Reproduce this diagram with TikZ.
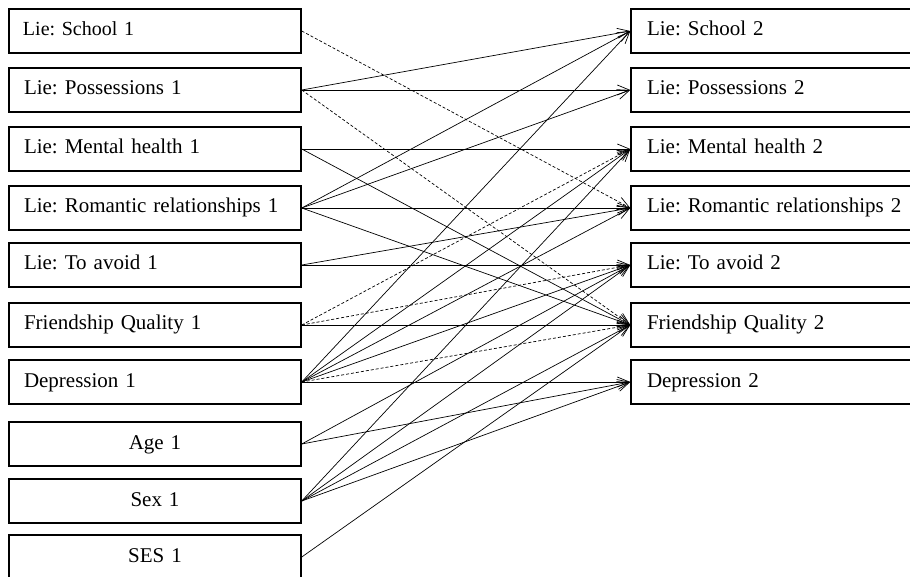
\documentclass[tikz,border=0pt]{standalone}
\usepackage{fontspec}
\setmainfont{Liberation Serif}
\usetikzlibrary{arrows.meta}
\frenchspacing
\tikzset{
  boxbase/.style={draw, line width=1.5pt, minimum height=44pt, text height=14pt, text depth=4pt,
    font=\fontsize{21}{25}\selectfont},
  lbox/.style={boxbase, inner xsep=15pt, text width=262pt, align=left},
  cbox/.style={boxbase, inner xsep=15pt, text width=262pt, align=center},
  rbox/.style={boxbase, inner xsep=16pt, text width=268pt, align=left},
  path/.style={line width=0.7pt, -{Straight Barb[length=12pt,width=10pt,line width=0.7pt]}},
  dpath/.style={path, dash pattern=on 3pt off 2pt},
}
\begin{document}
\begin{tikzpicture}[x=1pt,y=-1pt]
\clip (0,0) rectangle (910,577);
\fill[white] (0,0) rectangle (910,577);
% left column
\node[lbox, font=\fontsize{20}{24}\selectfont\frenchspacing, inner xsep=14pt, text width=264pt] (l1) at (155,31) {Lie: School 1};
\node[lbox] (l2) at (155,90) {Lie: Possessions 1};
\node[lbox] (l3) at (155,149) {Lie: Mental health 1};
\node[lbox] (l4) at (155,208) {Lie: Romantic relationships 1};
\node[lbox] (l5) at (155,265) {Lie: To avoid 1};
\node[lbox] (l6) at (155,325) {Friendship Quality 1};
\node[lbox] (l7) at (155,382) {Depression 1};
\node[cbox] (l8) at (155,444) {Age 1};
\node[cbox] (l9) at (155,501) {Sex 1};
\node[cbox] (l10) at (155,557) {SES 1};
% right column
\node[rbox] (r1) at (781,31) {Lie: School 2};
\node[rbox] (r2) at (781,90) {Lie: Possessions 2};
\node[rbox] (r3) at (781,149) {Lie: Mental health 2};
\node[rbox] (r4) at (781,208) {Lie: Romantic relationships 2};
\node[rbox] (r5) at (781,265) {Lie: To avoid 2};
\node[rbox] (r6) at (781,325) {Friendship Quality 2};
\node[rbox] (r7) at (781,382) {Depression 2};
% solid paths
\foreach \a/\b in {l2/r1, l2/r2, l3/r3, l3/r6, l4/r1, l4/r2, l4/r4, l4/r6, l5/r4, l5/r5,
                   l6/r6, l7/r1, l7/r3, l7/r4, l7/r5, l7/r7, l8/r5, l8/r7, l9/r3, l9/r5,
                   l9/r6, l9/r7, l10/r6}
  \draw[path] (\a.east) -- (\b.west);
% dashed paths
\foreach \a/\b in {l1/r4, l2/r6, l6/r3, l6/r5, l7/r6}
  \draw[dpath] (\a.east) -- (\b.west);
\end{tikzpicture}
\end{document}
